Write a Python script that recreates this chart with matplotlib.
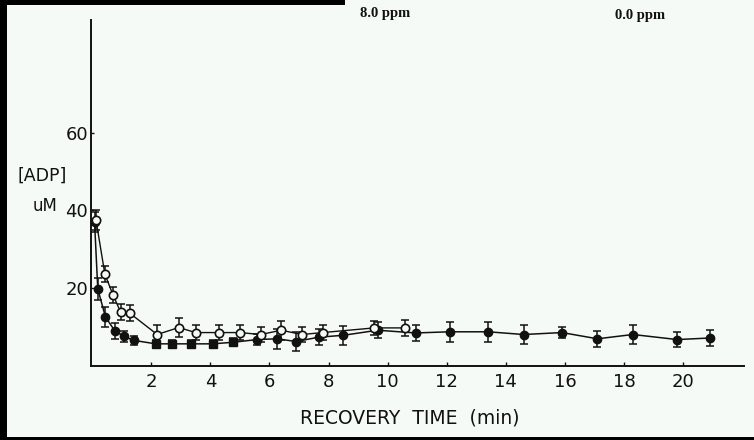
import matplotlib
matplotlib.use("Agg")
import matplotlib.pyplot as plt
from matplotlib import font_manager
from matplotlib.patches import Rectangle

# ---- data -----------------------------------------------------------------
# open circles
open_t = [0.13, 0.43, 0.71, 0.96, 1.27, 2.20, 2.93, 3.50, 4.28, 5.00, 5.70, 6.40, 7.10, 7.80, 9.55, 10.60]
open_v = [37.5, 23.6, 18.2, 13.9, 13.6, 8.1, 9.9, 8.6, 8.6, 8.6, 8.1, 9.2, 8.1, 8.6, 9.8, 9.8]
open_e = [2.5, 2.0, 2.0, 2.0, 2.0, 2.5, 2.5, 2.0, 2.0, 2.0, 2.0, 2.5, 2.0, 2.0, 1.8, 2.0]

# filled circles
fill_t = [0.08, 0.19, 0.45, 0.77, 1.09, 1.40, 5.58, 6.26, 6.90, 7.66, 8.50, 9.66,
          10.95, 12.10, 13.40, 14.60, 15.90, 17.10, 18.30, 19.80, 20.90]
fill_v = [37.0, 19.8, 12.6, 9.0, 7.6, 6.6, 6.8, 7.0, 6.3, 7.4, 7.9, 9.2,
          8.5, 8.8, 8.8, 8.1, 8.6, 7.0, 8.1, 6.8, 7.2]
fill_e = [2.5, 2.8, 2.5, 2.0, 1.5, 1.2, 1.5, 2.5, 2.5, 2.0, 2.5, 2.0,
          2.0, 2.5, 2.5, 2.5, 1.5, 2.0, 2.5, 2.0, 2.0]

# filled squares
sq_t = [2.15, 2.70, 3.36, 4.08, 4.76]
sq_v = [5.7, 5.7, 5.7, 5.7, 6.1]
sq_e = [1.0, 1.0, 1.0, 1.0, 1.0]

x_ticks = [2, 4, 6, 8, 10, 12, 14, 16, 18, 20]
y_ticks = [20, 40, 60]

# ---- fonts ------------------------------------------------------------------
installed = {f.name for f in font_manager.fontManager.ttflist}
narrow = "Liberation Sans Narrow" if "Liberation Sans Narrow" in installed else "DejaVu Sans"
serif = "Liberation Serif" if "Liberation Serif" in installed else "DejaVu Serif"

paper = "#f6faf6"
ink = "#111111"

fig = plt.figure(figsize=(7.54, 4.40), dpi=100, facecolor=paper)
ax = fig.add_axes([91 / 754, (440 - 366) / 440, (744 - 91) / 754, (366 - 20) / 440])
ax.set_facecolor(paper)

# connecting line of the filled series runs through circles and squares alike
solid = sorted(zip(fill_t + sq_t, fill_v + sq_v))
ax.plot([p[0] for p in solid], [p[1] for p in solid], color=ink, lw=1.1, zorder=2)
ax.plot(open_t, open_v, color=ink, lw=1.0, zorder=2)

eb = dict(fmt="none", ecolor=ink, elinewidth=1.1, capsize=3, capthick=1.1, zorder=3)
ax.errorbar(open_t, open_v, yerr=open_e, **eb)
ax.errorbar(fill_t, fill_v, yerr=fill_e, **eb)
ax.errorbar(sq_t, sq_v, yerr=sq_e, **eb)

ax.plot(fill_t, fill_v, "o", ms=6.0, mfc=ink, mec=ink, ls="none", zorder=4)
ax.plot(sq_t, sq_v, "s", ms=5.5, mfc=ink, mec=ink, ls="none", zorder=4)
ax.plot(open_t, open_v, "o", ms=6.0, mfc=paper, mec=ink, mew=1.2, ls="none", zorder=5)

ax.set_xlim(-0.04, 22.06)
ax.set_ylim(0, 89)
for s in ("top", "right"):
    ax.spines[s].set_visible(False)
for s in ("left", "bottom"):
    ax.spines[s].set_color(ink)
    ax.spines[s].set_linewidth(1.4)

ax.set_xticks(x_ticks)
ax.set_xticklabels([str(t) for t in x_ticks], family=narrow, fontsize=13, color=ink)
ax.set_yticks(y_ticks)
ax.set_yticklabels([str(t) for t in y_ticks], family=narrow, fontsize=13, color=ink)
ax.tick_params(axis="x", direction="in", length=3, width=1, pad=5, colors=ink)
ax.tick_params(axis="y", direction="in", length=2, width=1, pad=2, colors=ink)

# axis titles
fig.text(410 / 754, 1 - 418 / 440, "RECOVERY  TIME  (min)", family=narrow,
         fontsize=13.5, color=ink, ha="center", va="center")
fig.text(42 / 754, 1 - 176 / 440, "[ADP]", family=narrow, fontsize=12.5,
         color=ink, ha="center", va="center")
fig.text(45 / 754, 1 - 206 / 440, "uM", family=narrow, fontsize=12,
         color=ink, ha="center", va="center")

# header annotations
fig.text(385 / 754, 1 - 14 / 440, "8.0 ppm", family=serif, weight="bold",
         fontsize=10.5, color=ink, ha="center", va="center")
fig.text(640 / 754, 1 - 15 / 440, "0.0 ppm", family=serif, weight="bold",
         fontsize=10.5, color=ink, ha="center", va="center")

# dark page edges
for (x0, y0, w, h) in [(0, 0, 7, 440), (0, 0, 345, 5), (0, 437, 754, 3)]:
    fig.patches.append(Rectangle((x0 / 754, 1 - (y0 + h) / 440), w / 754, h / 440,
                                 transform=fig.transFigure, facecolor="black",
                                 edgecolor="none", zorder=10))

fig.savefig("out.png", dpi=100, facecolor=paper)
